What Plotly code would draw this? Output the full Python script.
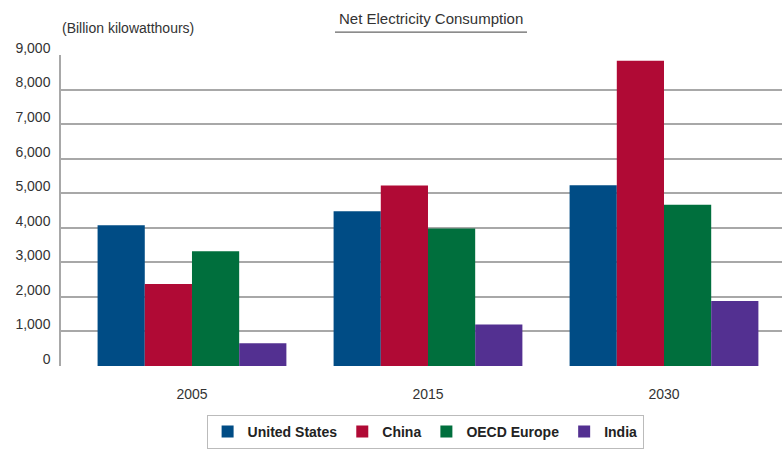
import plotly.graph_objects as go

years = ["2005", "2015", "2030"]
united_states = [4070, 4480, 5230]
china = [2370, 5220, 8830]
oecd_europe = [3320, 3980, 4670]
india = [660, 1200, 1880]
series_names = ["United States", "China", "OECD Europe", "India"]
series_values = [united_states, china, oecd_europe, india]
colors = ["#004C85", "#B00A35", "#006F3D", "#533091"]
y_ticks = [0, 1000, 2000, 3000, 4000, 5000, 6000, 7000, 8000, 9000]
y_tick_labels = ["0", "1,000", "2,000", "3,000", "4,000", "5,000", "6,000", "7,000", "8,000", "9,000"]

W, H = 782, 449
ml, mr, mt, mb = 61, 0, 55, 82
FONT = "Liberation Sans, Arial, sans-serif"

fig = go.Figure()
for name, vals, c in zip(series_names, series_values, colors):
    fig.add_trace(go.Bar(x=years, y=vals, name=name, marker=dict(color=c, line=dict(width=0))))

fig.update_layout(
    width=W, height=H,
    margin=dict(l=ml, r=mr, t=mt, b=mb, pad=0),
    barmode="group", bargap=0.2, bargroupgap=0,
    plot_bgcolor="white", paper_bgcolor="white",
    font=dict(family=FONT, size=12, color="#333333"),
    showlegend=True,
    legend=dict(
        orientation="h", x=0.505, xanchor="center", y=-0.157, yanchor="top",
        bordercolor="#BBBBBB", borderwidth=1, bgcolor="white",
        font=dict(size=14, color="#222222", family=FONT, weight="bold"),
        itemwidth=30, traceorder="normal",
    ),
    xaxis=dict(
        type="category", range=[-0.555, 2.5], showgrid=False, zeroline=False,
        showline=False, ticks="", tickfont=dict(size=14, color="#333333"),
        ticklabelstandoff=18,
    ),
    yaxis=dict(
        range=[0, 9000], tickvals=y_ticks, ticktext=y_tick_labels,
        showgrid=True, gridcolor="#A8A8A8", gridwidth=1.5,
        zeroline=False, showline=True, linecolor="#A8A8A8", linewidth=1.5,
        ticks="", tickfont=dict(size=14, color="#333333"), ticklabelshift=-7,
        ticklabelstandoff=6,
    ),
    annotations=[
        dict(text="(Billion kilowatthours)", xref="paper", yref="paper",
             x=-0.001, y=1 + (55 - 28) / 312, xanchor="left", yanchor="middle",
             showarrow=False, font=dict(size=14, color="#333333")),
        dict(text="Net Electricity Consumption", xref="paper", yref="paper",
             x=(431 - ml) / 721, y=1 + (55 - 18) / 312, xanchor="center", yanchor="middle",
             showarrow=False, font=dict(size=15, color="#333333")),
    ],
    shapes=[
        dict(type="line", xref="paper", yref="paper",
             x0=(335 - ml) / 721, x1=(527 - ml) / 721,
             y0=1 + (55 - 32) / 312, y1=1 + (55 - 32) / 312,
             line=dict(color="#666666", width=1.2)),
    ],
)

fig.write_html("out.html")
